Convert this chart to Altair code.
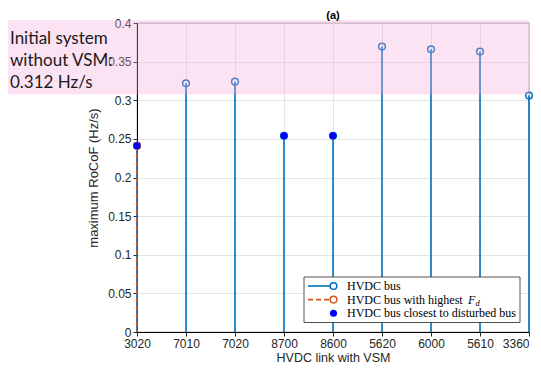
import altair as alt
import pandas as pd

# ---- data ----
links = ["3020", "7010", "7020", "8700", "8600", "5620", "6000", "5610", "3360"]
rocof = [0.241, 0.322, 0.324, 0.254, 0.254, 0.3695, 0.366, 0.363, 0.306]
highest_fd = ["3020"]
closest = ["3020", "8700", "8600"]
band = [0.3075, 0.404]
y_ticks = [0, 0.05, 0.1, 0.15, 0.2, 0.25, 0.3, 0.35, 0.4]
note_lines = ["Initial system", "without VSM:", "0.312 Hz/s"]
legend_labels = ["HVDC bus", "HVDC bus with highest ", "HVDC bus closest to disturbed bus"]

df = pd.DataFrame({"link": links, "rocof": rocof})
band_df = pd.DataFrame({"lo": [band[0]], "hi": [band[1]]})

W, H = 392, 309
BLUE = "#0072BD"
ORANGE = "#D95319"
DOT = "#0000FF"
SANS = "Liberation Sans"
SERIF = "Liberation Serif"

# the last label would be cut by the page edge: align it to the right of its tick
last_align = {"condition": {"test": f"datum.value == '{links[-1]}'", "value": "right"},
              "value": "center"}

xaxis = alt.Axis(title="HVDC link with VSM", labelAngle=0, grid=True, gridColor="#dedede",
                 gridWidth=0.8, domainColor="#000000", tickColor="#262626", tickSize=4,
                 labelFont=SANS, labelFontSize=12, labelColor="#262626", labelPadding=2,
                 labelAlign=last_align,
                 titleFont=SANS, titleFontSize=12.5, titleFontWeight="normal",
                 titleColor="#262626", titlePadding=2)
yaxis = alt.Axis(title="maximum RoCoF (Hz/s)", values=y_ticks, format="~g", grid=True,
                 gridColor="#dedede", gridWidth=0.8, domainColor="#000000",
                 tickColor="#262626", tickSize=4, labelFont=SANS, labelFontSize=12,
                 labelColor="#262626", labelPadding=2, titleFont=SANS, titleFontSize=13,
                 titleFontWeight="normal", titleColor="#262626", titlePadding=7)
xscale = alt.Scale(type="point", padding=0)
yscale = alt.Scale(domain=[0, 0.4], nice=False, zero=True)

def X():
    return alt.X("link:N", sort=links, scale=xscale, axis=xaxis)

def Y(field="rocof"):
    return alt.Y(f"{field}:Q", scale=yscale, axis=yaxis)

base = alt.Chart(df)

stems = base.mark_rule(color=BLUE, strokeWidth=1.6).encode(x=X(), y=Y(), y2=alt.datum(0))
circles = base.mark_point(shape="circle", filled=False, color=BLUE, size=45,
                          strokeWidth=1.5, opacity=1).encode(x=X(), y=Y())

hi = base.transform_filter(alt.FieldOneOfPredicate(field="link", oneOf=highest_fd))
hi_stem = hi.mark_rule(color=ORANGE, strokeWidth=1.6, strokeDash=[5, 3]).encode(
    x=X(), y=Y(), y2=alt.datum(0))
hi_circ = hi.mark_point(shape="circle", filled=False, color=ORANGE, size=45,
                        strokeWidth=1.5, opacity=1).encode(x=X(), y=Y())

cl = base.transform_filter(alt.FieldOneOfPredicate(field="link", oneOf=closest))
cl_dot = cl.mark_point(shape="circle", filled=True, color=DOT, size=50, opacity=1).encode(
    x=X(), y=Y())

pink = alt.Chart(band_df).mark_rect(color="#F7A8DC", opacity=0.32).encode(
    x=alt.value(-140), x2=alt.value(W), y=Y("hi"), y2="lo:Q")

layers = [stems, circles, hi_stem, hi_circ, cl_dot, pink]

# "(a)" title
layers.append(alt.Chart(band_df).mark_text(align="center", baseline="alphabetic", font=SANS,
                                           fontSize=11, fontWeight="bold", color="#000000").encode(
    x=alt.value(W / 2), y=alt.value(-4), text=alt.value("(a)")))

note_y = [20.5, 42.5, 64.5]
for t, yy in zip(note_lines, note_y):
    layers.append(alt.Chart(band_df).mark_text(align="left", baseline="alphabetic", font="Lato",
                                               fontSize=17, color="#1a1a1a").encode(
        x=alt.value(-127), y=alt.value(yy), text=alt.value(t)))

# legend (drawn by hand to match the MATLAB legend)
lx0, lx1, ly0, ly1 = 167, 383, 254, 299.5
rows = [263, 276.6, 290.3]
leg = alt.Chart(band_df)
layers.append(leg.mark_rect(fill="white", stroke="#262626", strokeWidth=0.8).encode(
    x=alt.value(lx0), x2=alt.value(lx1), y=alt.value(ly0), y2=alt.value(ly1)))
layers.append(leg.mark_rule(color=BLUE, strokeWidth=1.6).encode(
    x=alt.value(171), x2=alt.value(194), y=alt.value(rows[0])))
layers.append(leg.mark_point(shape="circle", filled=False, color=BLUE, size=45,
                             strokeWidth=1.5, opacity=1).encode(x=alt.value(196.5), y=alt.value(rows[0])))
layers.append(leg.mark_rule(color=ORANGE, strokeWidth=1.6, strokeDash=[5, 3]).encode(
    x=alt.value(171), x2=alt.value(193), y=alt.value(rows[1])))
layers.append(leg.mark_point(shape="circle", filled=False, color=ORANGE, size=45,
                             strokeWidth=1.5, opacity=1).encode(x=alt.value(196.5), y=alt.value(rows[1])))
layers.append(leg.mark_point(shape="circle", filled=True, color=DOT, size=50, opacity=1).encode(
    x=alt.value(196.5), y=alt.value(rows[2])))
for t, yy in zip(legend_labels, rows):
    layers.append(leg.mark_text(align="left", baseline="middle", font=SERIF, fontSize=12,
                                color="#000000").encode(
        x=alt.value(210), y=alt.value(yy), text=alt.value(t)))
layers.append(leg.mark_text(align="left", baseline="middle", font=SERIF, fontSize=12,
                            fontStyle="italic", color="#000000").encode(
    x=alt.value(331), y=alt.value(rows[1]), text=alt.value("F")))
layers.append(leg.mark_text(align="left", baseline="middle", font=SERIF, fontSize=8.5,
                            fontStyle="italic", color="#000000").encode(
    x=alt.value(338.5), y=alt.value(rows[1] + 3), text=alt.value("d")))

chart = alt.layer(*layers).properties(
    width=W, height=H,
    autosize=alt.AutoSizeParams(type="none"),
    padding={"left": 129, "top": 15, "right": 4, "bottom": 38},
).configure_view(stroke="#262626", strokeWidth=0.8)

chart.save("out.html", embed_options={"renderer": "svg", "actions": False})
